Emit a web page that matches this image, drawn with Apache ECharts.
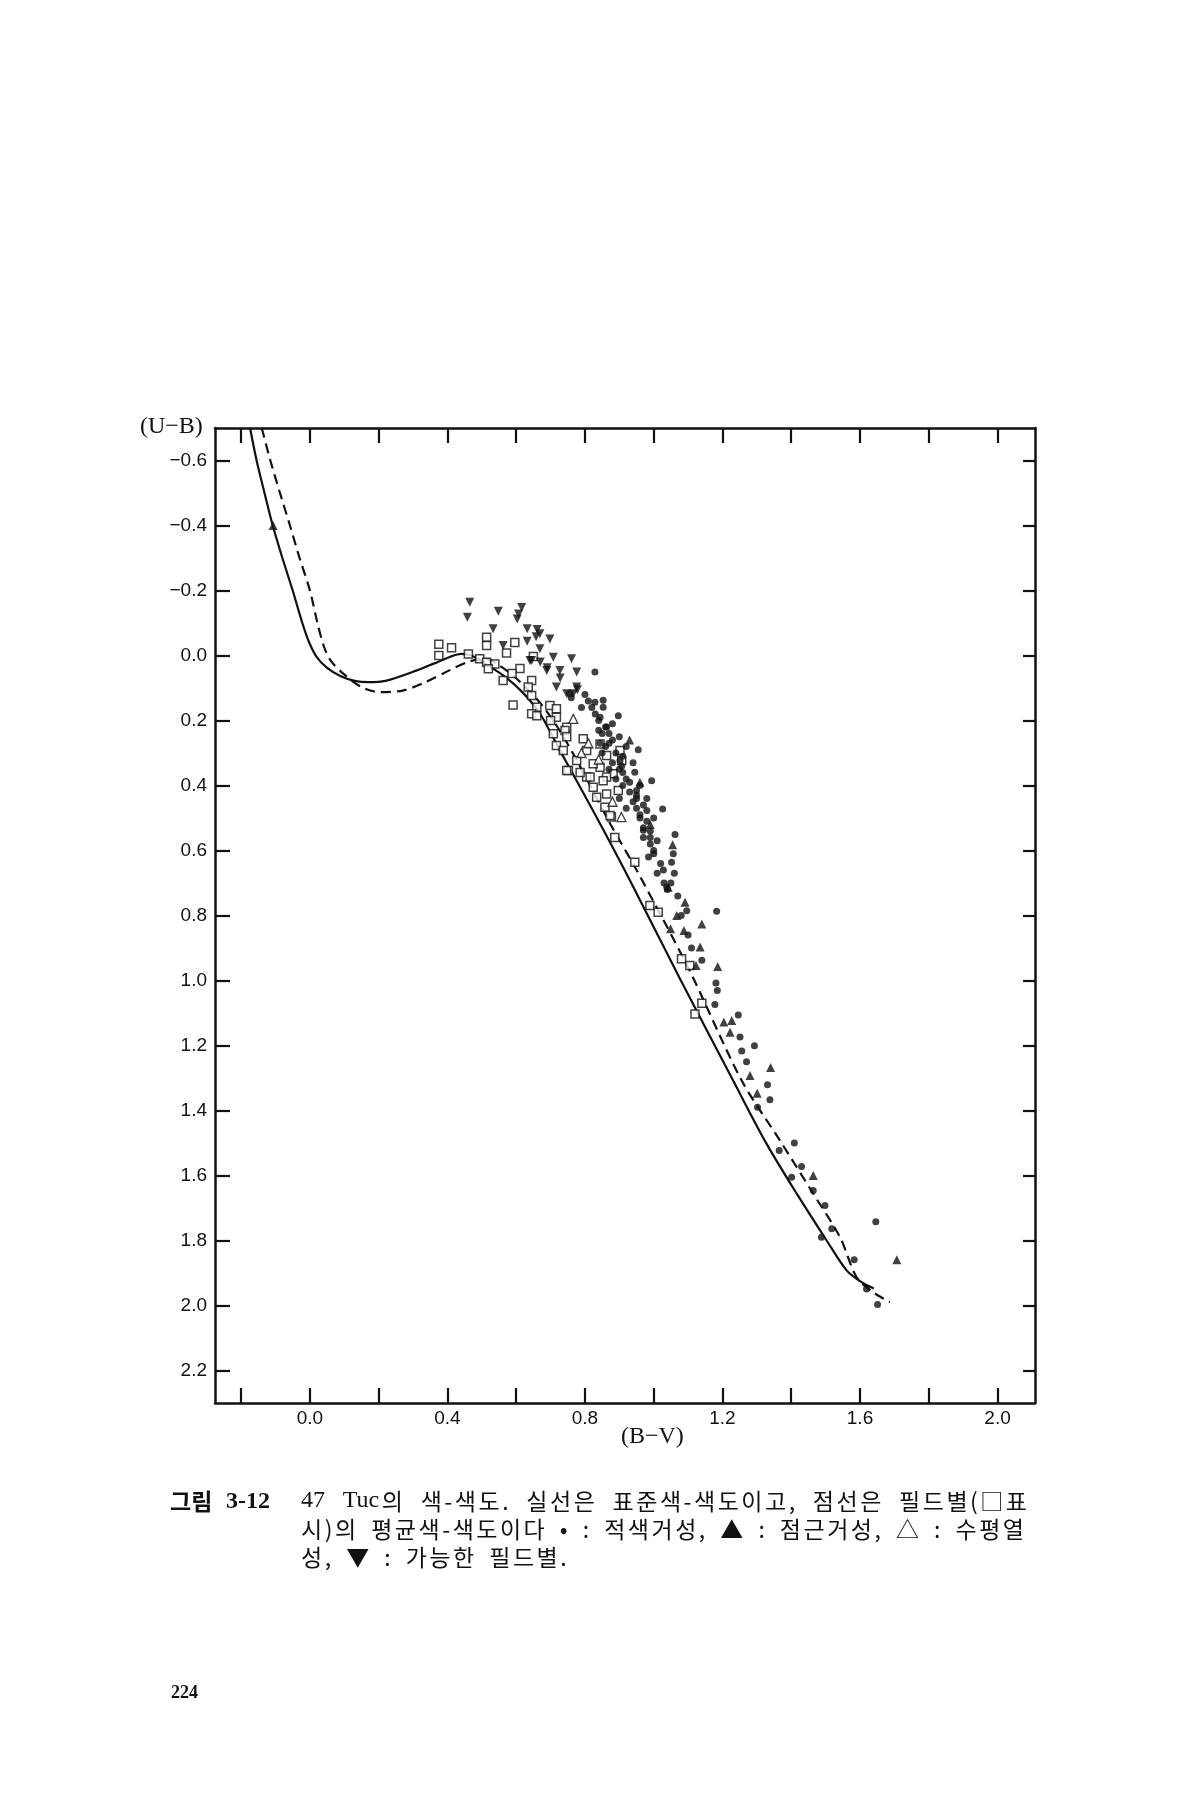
<!DOCTYPE html>
<html><head><meta charset="utf-8">
<script src="https://cdn.jsdelivr.net/npm/echarts@6/dist/echarts.min.js"></script>
<style>html,body{margin:0;padding:0;background:#fff}#c{width:1200px;height:1800px}</style>
</head><body><div id="c"></div>
<script>
// ---- axis ticks ----
const xTicks = [-0.2, 0.0, 0.2, 0.4, 0.6, 0.8, 1.0, 1.2, 1.4, 1.6, 1.8, 2.0];
const xLabels = [0.0, 0.4, 0.8, 1.2, 1.6, 2.0];
const yTicks = [-0.6, -0.4, -0.2, 0.0, 0.2, 0.4, 0.6, 0.8, 1.0, 1.2, 1.4, 1.6, 1.8, 2.0, 2.2];

// ---- curves [B-V, U-B] ----
const standardLine = [[-0.174,-0.7],[-0.155,-0.6],[-0.132,-0.5],[-0.108,-0.4],[-0.08,-0.3],[-0.05,-0.2],[-0.022,-0.1],[-0.002,-0.04],[0.02,0.005],[0.05,0.038],[0.09,0.064],[0.13,0.078],[0.17,0.082],[0.22,0.078],[0.3,0.05],[0.36,0.025],[0.41,0.003],[0.44,-0.005],[0.47,0.0],[0.51,0.025],[0.57,0.067],[0.62,0.115],[0.67,0.18],[0.727,0.292],[0.83,0.49],[0.931,0.692],[1.079,1.0],[1.231,1.308],[1.328,1.502],[1.416,1.656],[1.503,1.8],[1.561,1.892],[1.6,1.925],[1.64,1.948]];
const fieldMeanLine = [[-0.14,-0.7],[-0.115,-0.6],[-0.087,-0.5],[-0.058,-0.4],[-0.03,-0.3],[0.0,-0.2],[0.022,-0.1],[0.04,-0.03],[0.06,0.015],[0.097,0.056],[0.15,0.097],[0.204,0.113],[0.27,0.108],[0.33,0.085],[0.407,0.045],[0.465,0.018],[0.51,0.01],[0.55,0.03],[0.6,0.07],[0.665,0.14],[0.72,0.22],[0.78,0.33],[0.873,0.517],[0.95,0.66],[1.1,0.96],[1.256,1.308],[1.367,1.492],[1.464,1.656],[1.542,1.79],[1.59,1.913],[1.638,1.959],[1.687,1.99]];

// ---- stars ----
const redGiants = [[0.829,0.051],[0.829,0.144],[0.853,0.138],[0.853,0.159],[0.897,0.185],[0.955,0.29],[0.945,0.359],[0.994,0.385],[1.026,0.472],[1.062,0.551],[1.057,0.61],[1.052,0.636],
[0.80,0.12],[0.81,0.14],[0.79,0.16],[0.83,0.18],[0.84,0.20],[0.86,0.22],[0.87,0.24],[0.88,0.26],[0.86,0.28],[0.89,0.30],[0.88,0.33],[0.90,0.35],[0.92,0.38],[0.91,0.40],[0.93,0.42],[0.94,0.45],[0.95,0.47],[0.96,0.50],[0.97,0.53],[0.97,0.56],[0.99,0.58],[1.00,0.61],[1.02,0.64],[1.01,0.67],[1.03,0.70],[1.04,0.72],[0.92,0.28],[0.94,0.33],[0.96,0.40],[0.98,0.44],[1.00,0.50],[0.85,0.30],[0.87,0.35],[0.90,0.44],[0.92,0.47],
[0.756,0.118],[0.76,0.13],[0.844,0.19],[0.863,0.22],[0.85,0.24],[0.844,0.27],[0.902,0.323],[0.907,0.34],[0.95,0.415],[0.95,0.44],[0.98,0.477],[0.96,0.49],[0.97,0.538],[0.99,0.56],[1.0,0.6],
[0.84,0.23],[0.87,0.27],[0.89,0.38],[0.91,0.36],[0.93,0.39],[0.95,0.43],[0.97,0.46],[0.98,0.51],[0.99,0.54],[1.01,0.57],[0.985,0.62],[0.90,0.25],[0.91,0.31],[0.82,0.16],[0.88,0.21],
[1.028,0.66],[1.038,0.713],[1.05,0.70],[1.07,0.74],[1.08,0.80],[1.10,0.86],[1.06,0.67],[1.096,0.785],
[1.183,0.787],[1.11,0.90],[1.14,0.938],[1.181,1.008],[1.185,1.031],[1.178,1.074],[1.246,1.106],[1.251,1.174],[1.293,1.201],[1.256,1.217],[1.27,1.25],[1.331,1.321],[1.338,1.367],[1.302,1.39],[1.409,1.5],[1.365,1.523],[1.43,1.572],[1.464,1.646],[1.401,1.605],[1.498,1.692],[1.518,1.764],[1.488,1.79],[1.646,1.742],[1.583,1.859],[1.619,1.949],[1.651,1.997]];
const asymptoticGiants = [[-0.107,-0.4],[1.055,0.582],[1.091,0.759],[1.067,0.8],[1.14,0.826],[1.049,0.841],[1.088,0.846],[1.135,0.897],[1.186,0.957],[1.123,0.954],[1.204,1.128],[1.227,1.123],[1.222,1.159],[1.34,1.268],[1.28,1.292],[1.301,1.347],[1.042,0.713],[1.464,1.6],[1.707,1.859],[0.96,0.39],[0.99,0.52],[0.93,0.26]];
const horizontalBranch = [[0.766,0.195],[0.906,0.497],[0.81,0.27],[0.84,0.32],[0.79,0.30],[0.88,0.45]];
const possibleField = [[0.465,-0.164],[0.458,-0.118],[0.548,-0.136],[0.616,-0.148],[0.607,-0.128],[0.603,-0.112],[0.533,-0.082],[0.632,-0.082],[0.669,-0.067],[0.658,-0.058],[0.698,-0.051],[0.562,-0.031],[0.632,-0.044],[0.669,-0.021],[0.708,0.005],[0.761,0.01],[0.645,0.015],[0.689,0.046],[0.727,0.046],[0.776,0.051],[0.717,0.097],[0.776,0.097],[0.747,0.118],[0.766,0.118],[0.661,-0.08],[0.728,0.069],[0.778,0.105],[0.64,0.015],[0.69,0.038],[0.67,0.02]];
const fieldStars = [[0.375,0.0],[0.375,-0.035],[0.412,-0.024],[0.461,-0.005],[0.514,-0.056],[0.514,-0.031],[0.494,0.01],[0.514,0.021],[0.538,0.026],[0.519,0.041],[0.572,-0.008],[0.596,-0.04],[0.611,0.04],[0.562,0.077],[0.591,0.152],[0.588,0.055],[0.65,0.003],[0.645,0.077],[0.635,0.097],[0.645,0.123],[0.66,0.159],[0.645,0.179],[0.698,0.154],[0.717,0.164],[0.717,0.19],[0.747,0.221],[0.66,0.185],[0.708,0.241],[0.717,0.277],[0.737,0.292],[0.752,0.354],[0.776,0.323],[0.805,0.374],[0.824,0.405],[0.834,0.436],[0.863,0.426],[0.858,0.467],[0.877,0.497],[0.902,0.292],[0.907,0.323],[0.882,0.364],[0.844,0.344],[0.863,0.374],[0.887,0.56],[0.945,0.636],[0.989,0.769],[1.013,0.79],[1.081,0.933],[1.105,0.954],[1.14,1.07],[1.12,1.103],[0.742,0.231],[0.747,0.25],[0.747,0.354],[0.805,0.292],[0.815,0.374],[0.853,0.385],[0.873,0.492],[0.786,0.36],[0.824,0.333],[0.863,0.308],[0.844,0.272],[0.795,0.256],[0.897,0.415],[0.70,0.20]];

// ---- texts ----
const yName = '(U\u2212B)';
const xName = '(B\u2212V)';
const figWord = '그림';
const figNum = '3-12';
const captionLines = [
  '47 Tuc의 색-색도. 실선은 표준색-색도이고, 점선은 필드별(□표',
  '시)의 평균색-색도이다 • : 적색거성, ▲ : 점근거성, △ : 수평열',
  '성, ▼ : 가능한 필드별.'
];
const pageNo = '224';

const fmt = v => {
  const r = Math.round(v * 10) / 10;
  return (r < 0 ? '\u2212' : '') + Math.abs(r).toFixed(1);
};

// justified caption layout: small tracking between glyphs, remaining width goes to word spaces
const mctx = document.createElement('canvas').getContext('2d');
function textLine(text, x0, x1, yMid, latinFont, cjkFont, tracking, spaceExtra) {
  const toks = text.match(/[A-Za-z0-9]+(?:-[0-9]+)?|./gu);
  const fonts = toks.map(t => /[A-Za-z0-9]/.test(t) ? latinFont : cjkFont);
  const w = toks.map((t, i) => { mctx.font = fonts[i]; return mctx.measureText(t).width; });
  const sum = w.reduce((a, b) => a + b, 0);
  const nSp = toks.filter(t => t === ' ').length;
  const se = (x1 != null) ? (x1 - x0 - sum - tracking * (toks.length - 1)) / Math.max(nSp, 1) : spaceExtra;
  const els = [];
  let x = x0;
  toks.forEach((t, i) => {
    if (t !== ' ') els.push({type: 'text', x: x, y: yMid, style: {text: t, font: fonts[i], fill: '#111', verticalAlign: 'middle'}});
    x += w[i] + tracking + (t === ' ' ? se : 0);
  });
  return {els, se};
}
const capLatin = '24px "Liberation Serif", serif';
const capCJK = '23px "Noto Sans CJK KR", sans-serif';
const TR = 2.5;
const L1 = textLine(captionLines[0], 301, 1027, 1501, capLatin, capCJK, TR);
const L2 = textLine(captionLines[1], 301, 1024, 1529, capLatin, capCJK, TR);
const L3 = textLine(captionLines[2], 301, null, 1557, capLatin, capCJK, TR, L2.se);

const chart = echarts.init(document.getElementById('c'), null, {renderer: 'canvas'});
const axisLine = {show: true, onZero: false, lineStyle: {color: '#111', width: 2.5}};
const tickStyle = {color: '#111', width: 2.2};
const labelFont = {fontSize: 19, color: '#111', fontFamily: '"Liberation Sans", Arial, sans-serif'};
const X_MIN = -0.276, X_MAX = 2.109, Y_MIN = -0.7, Y_MAX = 2.3;

chart.setOption({
  backgroundColor: '#fff',
  animation: false,
  grid: {left: 215, right: 165, top: 428, bottom: 397, containLabel: false},
  xAxis: [
    {type: 'value', min: X_MIN, max: X_MAX, position: 'bottom', axisLine,
     splitLine: {show: false},
     axisTick: {show: true, inside: true, length: 15, lineStyle: tickStyle, customValues: xTicks},
     axisLabel: Object.assign({show: true, margin: 6, formatter: fmt, customValues: xLabels}, labelFont)},
    {type: 'value', min: X_MIN, max: X_MAX, position: 'top', axisLine,
     splitLine: {show: false},
     axisTick: {show: true, inside: true, length: 15, lineStyle: tickStyle, customValues: xTicks},
     axisLabel: {show: false}}
  ],
  yAxis: [
    {type: 'value', inverse: true, min: Y_MIN, max: Y_MAX, position: 'left', axisLine,
     splitLine: {show: false},
     axisTick: {show: true, inside: true, length: 15, lineStyle: tickStyle, customValues: yTicks},
     axisLabel: Object.assign({show: true, margin: 8, formatter: fmt, customValues: yTicks}, labelFont)},
    {type: 'value', inverse: true, min: Y_MIN, max: Y_MAX, position: 'right', axisLine,
     splitLine: {show: false},
     axisTick: {show: true, inside: true, length: 12, lineStyle: tickStyle, customValues: yTicks},
     axisLabel: {show: false}}
  ],
  series: [
    {name: 'standard', type: 'line', data: standardLine, smooth: 0.3, symbol: 'none',
     lineStyle: {color: '#111', width: 2.2}, z: 2},
    {name: 'field mean', type: 'line', data: fieldMeanLine, smooth: 0.3, symbol: 'none',
     lineStyle: {color: '#111', width: 2.2, type: [10, 6]}, z: 2},
    {name: 'field', type: 'scatter', data: fieldStars, symbol: 'rect', symbolSize: 8,
     itemStyle: {color: '#fff', borderColor: '#111', borderWidth: 1.5}, z: 3},
    {name: 'HB', type: 'scatter', data: horizontalBranch, symbol: 'triangle', symbolSize: 9,
     itemStyle: {color: '#fff', borderColor: '#111', borderWidth: 1.3}, z: 3},
    {name: 'possible field', type: 'scatter', data: possibleField, symbol: 'triangle', symbolRotate: 180, symbolSize: 9,
     itemStyle: {color: '#111'}, z: 4},
    {name: 'AGB', type: 'scatter', data: asymptoticGiants, symbol: 'triangle', symbolSize: 9,
     itemStyle: {color: '#111'}, z: 4},
    {name: 'RGB', type: 'scatter', data: redGiants, symbol: 'circle', symbolSize: 7,
     itemStyle: {color: '#111'}, z: 4}
  ],
  graphic: [
    {type: 'text', left: 140, top: 415, style: {text: yName, font: '24px "Liberation Serif", serif', fill: '#111'}},
    {type: 'text', left: 621, top: 1425, style: {text: xName, font: '24px "Liberation Serif", serif', fill: '#111'}},
    {type: 'text', x: 170, y: 1501, style: {text: figWord, font: 'bold 23px "Noto Sans CJK KR", sans-serif', fill: '#111', verticalAlign: 'middle'}},
    {type: 'text', x: 226, y: 1502, style: {text: figNum, font: 'bold 24px "Liberation Serif", serif', fill: '#111', verticalAlign: 'middle'}},
    {type: 'text', left: 171, top: 1684, style: {text: pageNo, font: 'bold 18px "Liberation Serif", serif', fill: '#111'}}
  ].concat(L1.els, L2.els, L3.els)
});
</script></body></html>
